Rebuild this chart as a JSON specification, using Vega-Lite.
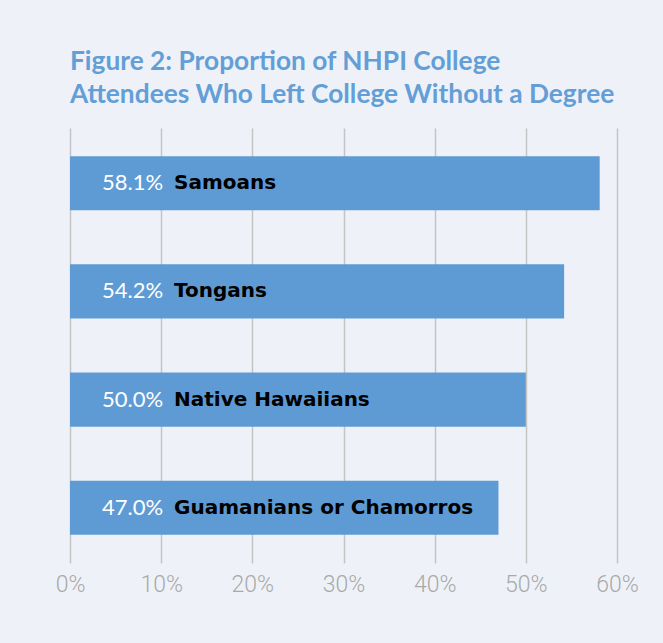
{
  "$schema": "https://vega.github.io/schema/vega-lite/v6.json",
  "width": 547,
  "height": 435,
  "autosize": {"type": "none"},
  "padding": {"left": 70, "top": 128, "right": 46, "bottom": 80},
  "background": "#eef2f8",
  "title": {
    "text": ["Figure 2: Proportion of NHPI College", "Attendees Who Left College Without a Degree"],
    "anchor": "start",
    "frame": "group",
    "font": "Lato",
    "fontSize": 26.3,
    "fontWeight": "bold",
    "color": "#649ed6",
    "lineHeight": 33,
    "offset": 20
  },
  "config": {
    "view": {"stroke": null},
    "axis": {"gridColor": "#c4c4c4", "gridWidth": 1.5}
  },
  "data": {
    "values": [
      {"group": "Samoans", "value": 58.1, "label": "58.1%"},
      {"group": "Tongans", "value": 54.2, "label": "54.2%"},
      {"group": "Native Hawaiians", "value": 50.0, "label": "50.0%"},
      {"group": "Guamanians or Chamorros", "value": 47.0, "label": "47.0%"}
    ]
  },
  "encoding": {
    "y": {
      "field": "group",
      "type": "nominal",
      "sort": null,
      "axis": null,
      "scale": {"paddingInner": 0.5, "paddingOuter": 0.26}
    }
  },
  "layer": [
    {
      "mark": {"type": "bar", "color": "#5e9bd4"},
      "encoding": {
        "x": {
          "field": "value",
          "type": "quantitative",
          "scale": {"domain": [0, 60], "nice": false},
          "axis": {
            "title": null,
            "values": [0, 10, 20, 30, 40, 50, 60],
            "labelExpr": "datum.value + '%'",
            "grid": true,
            "domain": false,
            "ticks": false,
            "labelFlush": false,
            "labelPadding": 10,
            "labelFont": "Roboto",
            "labelFontWeight": 300,
            "labelFontSize": 23,
            "labelColor": "#a9a9a9"
          }
        }
      }
    },
    {
      "mark": {"type": "text", "align": "left", "baseline": "middle", "dx": 32, "font": "Lato", "fontSize": 22, "color": "white"},
      "encoding": {
        "x": {"datum": 0, "type": "quantitative"},
        "text": {"field": "label"}
      }
    },
    {
      "mark": {"type": "text", "align": "left", "baseline": "middle", "dx": 104, "font": "DejaVu Sans", "fontWeight": "bold", "fontSize": 20, "color": "black"},
      "encoding": {
        "x": {"datum": 0, "type": "quantitative"},
        "text": {"field": "group"}
      }
    }
  ]
}
